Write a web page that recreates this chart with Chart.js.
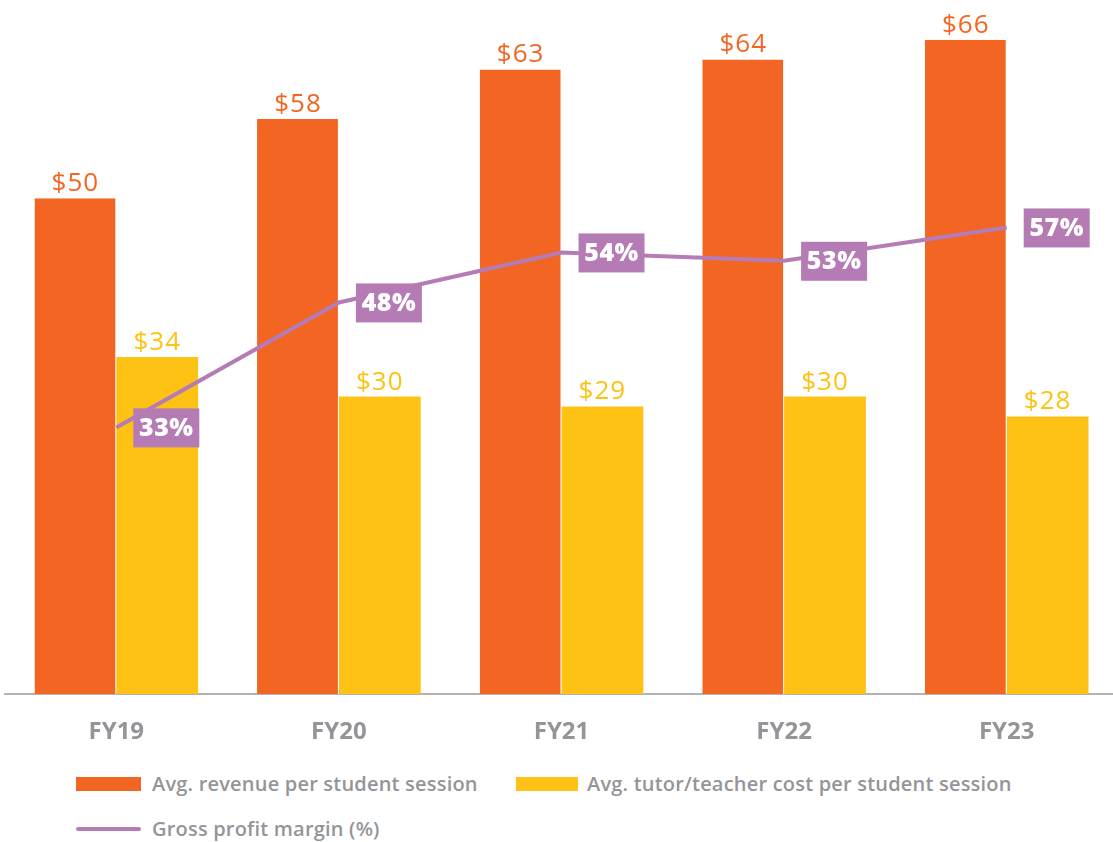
<!DOCTYPE html>
<html>
<head>
<meta charset="utf-8">
<script src="https://cdn.jsdelivr.net/npm/chart.js@4.4.1/dist/chart.umd.min.js"></script>
<style>
  body { margin: 0; background: #fff; font-family: "Open Sans", sans-serif; overflow: hidden; }
  #wrap { position: relative; width: 1113px; height: 842px; overflow: hidden; }
  #chartBox { position: absolute; left: 0; top: 0; width: 1118px; height: 760px; }
  .leg { position: absolute; display: flex; align-items: center; font-size: 20px; font-weight: 600; color: #939598; white-space: nowrap; letter-spacing: 0.2px; }
  .sw { width: 65px; height: 14px; margin-right: 11px; }
  .ln { width: 65px; height: 4px; border-radius: 2px; margin-right: 11px; }
</style>
</head>
<body>
<div id="wrap">
  <div id="chartBox"><canvas id="myChart"></canvas></div>
  <!-- legend below the chart -->
  <div class="leg" style="left:76px; top:770px;"><div class="sw" style="background:#f26522"></div>Avg. revenue per student session</div>
  <div class="leg" style="left:516px; top:770px;"><div class="sw" style="background:#fdc213; width:62px; margin-right:9px"></div>Avg. tutor/teacher cost per student session</div>
  <div class="leg" style="left:76px; top:815px;"><div class="ln" style="background:#b57bb4"></div>Gross profit margin (%)</div>
</div>
<script>
// DATA
const years = ['FY19', 'FY20', 'FY21', 'FY22', 'FY23'];
const revenue = [50, 58, 63, 64, 66];
const cost = [34, 30, 29, 30, 28];
const margin = [33, 48, 54, 53, 57];

const ORANGE = '#f26522';
const YELLOW = '#fdc213';
const PURPLE = '#b57bb4';

// draws the $ labels over bars and the boxed % labels on the line
const labelPlugin = {
  id: 'labels',
  afterDatasetsDraw(chart) {
    const ctx = chart.ctx;
    ctx.save();
    // bar labels
    [0, 1].forEach(function(di) {
      const meta = chart.getDatasetMeta(di);
      const color = di === 0 ? ORANGE : YELLOW;
      meta.data.forEach(function(bar, i) {
        ctx.font = '400 26px "Open Sans"';
        ctx.letterSpacing = '1px';
        ctx.fillStyle = color;
        ctx.textAlign = 'center';
        ctx.textBaseline = 'alphabetic';
        ctx.fillText('$' + chart.data.datasets[di].data[i], bar.x, bar.y - 7);
      });
    });
    // margin labels
    const meta = chart.getDatasetMeta(2);
    meta.data.forEach(function(pt, i) {
      const x = pt.x + 17, y = pt.y;
      ctx.fillStyle = PURPLE;
      ctx.fillRect(x, y - 19, 66, 39);
      ctx.font = '800 25px "Open Sans"';
      ctx.letterSpacing = '0.5px';
      ctx.fillStyle = '#fff';
      ctx.textAlign = 'center';
      ctx.textBaseline = 'middle';
      ctx.fillText(margin[i] + '%', x + 33, y + 1);
    });
    ctx.restore();
  }
};

const ctx = document.getElementById('myChart').getContext('2d');
const myChart = new Chart(ctx, {
  type: 'bar',
  data: {
    labels: years,
    datasets: [
      {
        label: 'Avg. revenue per student session',
        data: revenue,
        backgroundColor: ORANGE,
        borderColor: '#fff',
        borderWidth: { right: 1 },
        borderSkipped: 'bottom',
        categoryPercentage: 0.735,
        barPercentage: 1,
        order: 2
      },
      {
        label: 'Avg. tutor/teacher cost per student session',
        data: cost,
        backgroundColor: YELLOW,
        borderWidth: 0,
        categoryPercentage: 0.735,
        barPercentage: 1,
        order: 2
      },
      {
        type: 'line',
        label: 'Gross profit margin (%)',
        data: margin,
        yAxisID: 'y2',
        borderColor: PURPLE,
        borderWidth: 4,
        pointRadius: 0,
        tension: 0,
        order: 1
      }
    ]
  },
  options: {
    responsive: true,
    maintainAspectRatio: false,
    animation: false,
    layout: { padding: { left: 5, right: 0, top: 0, bottom: 0 } },
    plugins: {
      legend: { display: false },
      tooltip: { enabled: false }
    },
    scales: {
      x: {
        grid: { display: false, drawTicks: false },
        border: { display: true, color: '#b3b3b3', width: 2 },
        ticks: {
          color: '#939598',
          padding: 24,
          font: { family: 'Open Sans', size: 24, weight: '700' }
        },
        afterFit: function(s) { s.height = 66; }
      },
      y: { display: false, min: 0, max: 70 },
      y2: { display: false, min: 1, max: 84.3 }
    }
  },
  plugins: [labelPlugin]
});
</script>
</body>
</html>
